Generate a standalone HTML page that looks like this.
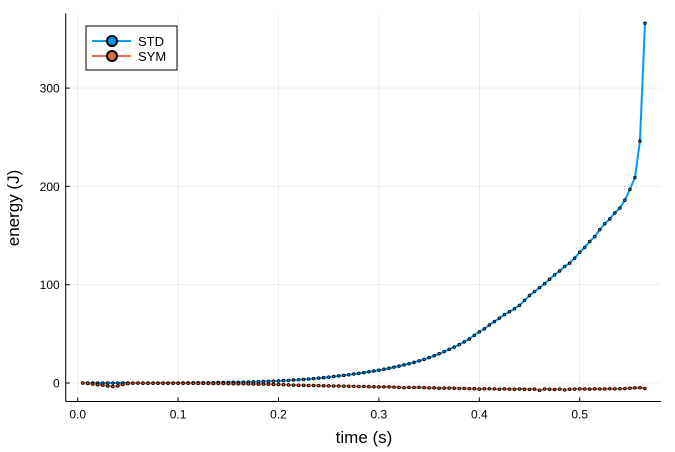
<!DOCTYPE html>
<html><head><meta charset="utf-8"><style>
html,body{margin:0;padding:0;background:#fff;}
svg{display:block;font-family:"Liberation Sans","DejaVu Sans",sans-serif;}
</style></head><body>
<svg id="chart" width="675" height="452" viewBox="0 0 675 452" xmlns="http://www.w3.org/2000/svg">
<g id="grid"></g>
<g id="axes"></g>
<g id="series"></g>
<text x="364" y="443" font-size="17" text-anchor="middle" fill="#000">time (s)</text>
<text transform="translate(19,208) rotate(-90)" font-size="17" text-anchor="middle" fill="#000">energy (J)</text>
<g>
<rect x="86" y="26" width="91" height="44" fill="#fff" stroke="#000" stroke-width="1"/>
<g>
<line x1="92" y1="41" x2="131" y2="41" stroke="#009af9" stroke-width="2"/>
<circle cx="112" cy="41" r="5" fill="#009af9" stroke="#000" stroke-width="2"/>
<text x="138" y="46" font-size="13" fill="#000">STD</text>
</g>
<g>
<line x1="92" y1="56" x2="131" y2="56" stroke="#e26f46" stroke-width="2"/>
<circle cx="112" cy="56" r="5" fill="#e26f46" stroke="#000" stroke-width="2"/>
<text x="138" y="61" font-size="13" fill="#000">SYM</text>
</g>
</g>
</svg>
<script>
const xTicks = [0.0, 0.1, 0.2, 0.3, 0.4, 0.5];
const xTickLabels = ["0.0", "0.1", "0.2", "0.3", "0.4", "0.5"];
const yTicks = [0, 100, 200, 300];
const yTickLabels = ["0", "100", "200", "300"];
const tStart = 0.005;
const tStep = 0.005;
const stdValues = [0,0,0,0,0,0,0,0,0,0,0,0,0,0,0,0,0,0,0,0,
0.1,0.1,0.2,0.2,0.3,0.3,0.4,0.5,0.5,0.6,
0.7,0.8,0.9,1.0,1.2,1.3,1.5,1.7,1.9,2.1,
2.4,2.7,3.0,3.3,3.7,4.1,4.5,5.0,5.5,6.0,
6.6,7.2,7.8,8.4,9.1,9.8,10.6,11.4,12.2,13.0,
14.0,15.0,16.1,17.2,18.4,19.6,21.0,22.5,24.0,25.8,
27.7,29.7,31.9,34.2,36.5,39.0,41.8,44.8,48.5,52.0,
55,59,62.5,66,69.5,72.5,75.5,79,84,89,
93,97,101,105.5,110,114,118.5,122,127,133,
138,144,149,156,162,167,173,178,186,197,209,246,366];
const symValues = [0,-0.5,-1,-1.8,-2.2,-3,-3.5,-3,-1.5,-0.6,
-0.1,0,-0.2,-0.3,-0.3,-0.3,-0.3,-0.3,-0.3,-0.3,
-0.3,-0.3,-0.3,-0.4,-0.4,-0.4,-0.5,-0.5,-0.5,-0.6,
-0.7,-0.8,-0.8,-0.9,-1.0,-1.1,-1.2,-1.3,-1.4,-1.5,
-1.7,-1.9,-2.1,-2.3,-2.4,-2.5,-2.6,-2.7,-2.8,-2.9,
-3.0,-3.1,-3.2,-3.3,-3.4,-3.5,-3.6,-3.7,-3.8,-3.9,
-4.0,-4.0,-4.2,-4.5,-4.7,-4.4,-4.6,-4.5,-4.7,-4.9,
-5.0,-5.3,-5.2,-5.2,-5.4,-5.6,-5.5,-5.7,-5.9,-6.2,
-5.8,-5.9,-6.0,-6.3,-6.0,-6.2,-6.4,-6.1,-6.3,-6.5,
-6.2,-7.4,-6.1,-6.3,-6.6,-6.2,-7.0,-6.3,-6.2,-6.0,
-6.1,-6.2,-6.0,-6.1,-6.0,-5.9,-6.0,-5.8,-5.7,-5.4,-5.0,-4.8,-5.6];

const X0 = 77.7, XS = 1004;
const Y0 = 383, YS = 0.983;
function xs(t){ return X0 + t * XS; }
function ys(v){ return Y0 - v * YS; }
const NS = "http://www.w3.org/2000/svg";
function mk(tag, attrs, parent){
  const e = document.createElementNS(NS, tag);
  for (const k in attrs) e.setAttribute(k, attrs[k]);
  parent.appendChild(e);
  return e;
}
const grid = document.getElementById('grid');
const axes = document.getElementById('axes');
const series = document.getElementById('series');
const L = 65.7, R = 661, T = 13.5, B = 401.5;

xTicks.forEach((t, i) => {
  const x = xs(t);
  const g = mk('line', {x1:x, y1:T, x2:x, y2:B, stroke:'#000', 'stroke-opacity':0.1, 'stroke-width':0.6}, grid);
  
  
  const tk = mk('line', {x1:x, y1:B, x2:x, y2:B-4, stroke:'#000', 'stroke-width':1}, axes);
  
  
  const lb = mk('text', {x:x, y:B+17, 'font-size':12, 'text-anchor':'middle', fill:'#000'}, axes);
  lb.textContent = xTickLabels[i];
  
  
});
yTicks.forEach((v, i) => {
  const y = ys(v);
  const g = mk('line', {x1:L, y1:y, x2:R, y2:y, stroke:'#000', 'stroke-opacity':0.1, 'stroke-width':0.6}, grid);
  
  
  const tk = mk('line', {x1:L, y1:y, x2:L+4, y2:y, stroke:'#000', 'stroke-width':1}, axes);
  
  
  const lb = mk('text', {x:L-6, y:y+4.5, 'font-size':12, 'text-anchor':'end', fill:'#000'}, axes);
  lb.textContent = yTickLabels[i];
  
  
});
const xa = mk('line', {x1:L, y1:B, x2:R, y2:B, stroke:'#000', 'stroke-width':1}, axes);


const ya = mk('line', {x1:L, y1:B, x2:L, y2:T, stroke:'#000', 'stroke-width':1}, axes);



function drawSeries(vals, color, name){
  const pts = vals.map((v, i) => xs(tStart + i * tStep).toFixed(2) + ',' + ys(v).toFixed(2)).join(' ');
  const pl = mk('polyline', {points:pts, fill:'none', stroke:color, 'stroke-width':2, 'stroke-linejoin':'round'}, series);
  
  
  vals.forEach((v, i) => {
    const c = mk('circle', {cx:xs(tStart + i * tStep), cy:ys(v), r:1.3, fill:color, stroke:'#000', 'stroke-width':0.9}, series);
    
    
  });
}
drawSeries(stdValues, '#009af9', 'std');
drawSeries(symValues, '#e26f46', 'sym');
</script>
</body></html>
